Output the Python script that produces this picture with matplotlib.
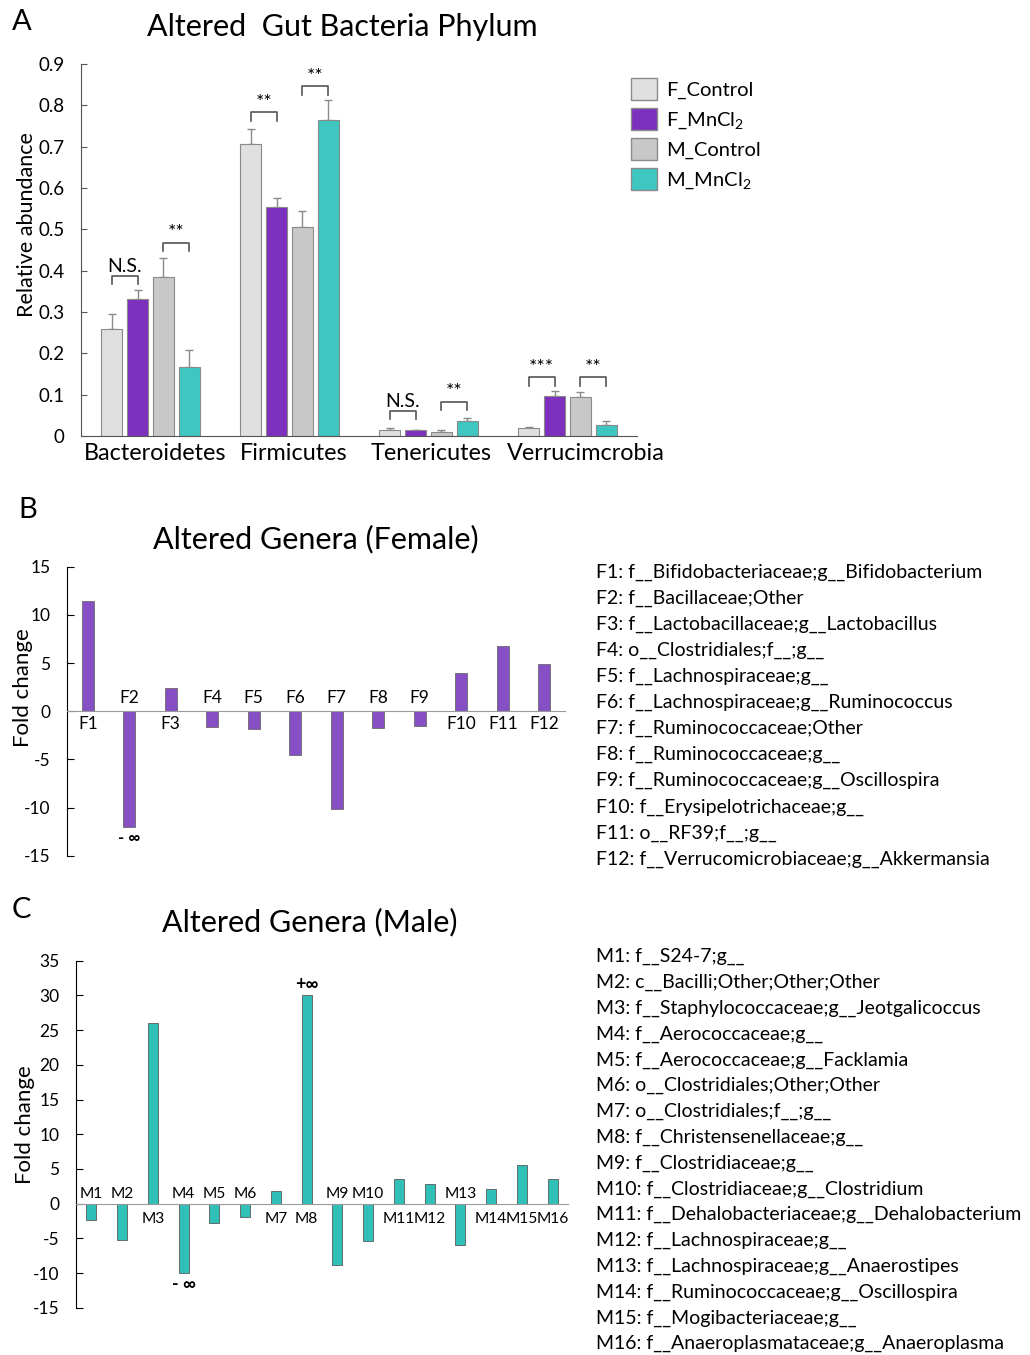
import numpy as np
import matplotlib.pyplot as plt
from matplotlib.patches import Patch

plt.rcParams['font.family'] = ['Lato', 'DejaVu Sans']
plt.rcParams['mathtext.fontset'] = 'custom'
plt.rcParams['mathtext.rm'] = 'Lato'
plt.rcParams['mathtext.it'] = 'Lato:italic'
plt.rcParams['axes.unicode_minus'] = False

# panel A data
phyla = ['Bacteroidetes', 'Firmicutes', 'Tenericutes', 'Verrucimcrobia']
groups = ['F_Control', 'F_MnCl$_2$', 'M_Control', 'M_MnCl$_2$']
abund = np.array([
    [0.258, 0.706, 0.015, 0.020],
    [0.331, 0.554, 0.0145, 0.096],
    [0.385, 0.506, 0.0105, 0.094],
    [0.167, 0.764, 0.0355, 0.026]])
abund_err = np.array([
    [0.036, 0.036, 0.005, 0.002],
    [0.023, 0.023, 0.001, 0.014],
    [0.045, 0.038, 0.004, 0.013],
    [0.041, 0.050, 0.008, 0.011]])
sig_text = [['N.S.', '**'], ['**', '**'], ['N.S.', '**'], ['***', '**']]
sig_y = [[0.387, 0.468], [0.783, 0.846], [0.0605, 0.083], [0.142, 0.142]]

# panel B data
f_labels = ['F1', 'F2', 'F3', 'F4', 'F5', 'F6', 'F7', 'F8', 'F9', 'F10', 'F11', 'F12']
f_fold = [11.44, -12.0, 2.39, -1.59, -1.87, -4.53, -10.2, -1.76, -1.52, 4.01, 6.81, 4.87]
f_taxa = ['f__Bifidobacteriaceae;g__Bifidobacterium',
          'f__Bacillaceae;Other',
          'f__Lactobacillaceae;g__Lactobacillus',
          'o__Clostridiales;f__;g__',
          'f__Lachnospiraceae;g__',
          'f__Lachnospiraceae;g__Ruminococcus',
          'f__Ruminococcaceae;Other',
          'f__Ruminococcaceae;g__',
          'f__Ruminococcaceae;g__Oscillospira',
          'f__Erysipelotrichaceae;g__',
          'o__RF39;f__;g__',
          'f__Verrucomicrobiaceae;g__Akkermansia']

# panel C data
m_labels = ['M%d' % i for i in range(1, 17)]
m_fold = [-2.31, -5.28, 26.03, -10.0, -2.74, -1.87, 1.83, 30.0,
          -8.89, -5.43, 3.6, 2.88, -5.91, 2.07, 5.52, 3.55]
m_taxa = ['f__S24-7;g__',
          'c__Bacilli;Other;Other;Other',
          'f__Staphylococcaceae;g__Jeotgalicoccus',
          'f__Aerococcaceae;g__',
          'f__Aerococcaceae;g__Facklamia',
          'o__Clostridiales;Other;Other',
          'o__Clostridiales;f__;g__',
          'f__Christensenellaceae;g__',
          'f__Clostridiaceae;g__',
          'f__Clostridiaceae;g__Clostridium',
          'f__Dehalobacteriaceae;g__Dehalobacterium',
          'f__Lachnospiraceae;g__',
          'f__Lachnospiraceae;g__Anaerostipes',
          'f__Ruminococcaceae;g__Oscillospira',
          'f__Mogibacteriaceae;g__',
          'f__Anaeroplasmataceae;g__Anaeroplasma']

group_colors = ['#e0e0e0', '#7d30be', '#c8c8c8', '#3ec7c0']
purple = '#8650c4'
teal = '#30c0b8'

W, H = 1030, 1355
fig = plt.figure(figsize=(W / 100, H / 100), dpi=100)


def fig_rect(x0, y_top, x1, y_bot):
    return [x0 / W, 1 - y_bot / H, (x1 - x0) / W, (y_bot - y_top) / H]


def px(x, y):
    return x / W, 1 - y / H


# ---------- A ----------
axA = fig.add_axes(fig_rect(81, 64, 637, 436))
pitch, bw = 0.186, 0.15
xg = np.arange(len(phyla))
for i in range(4):
    xs = xg + (i - 1.5) * pitch
    axA.bar(xs, abund[i], width=bw, color=group_colors[i], edgecolor='#8a8a8a',
            linewidth=0.8, zorder=2)
    axA.errorbar(xs, abund[i], yerr=[np.zeros(4), abund_err[i]], fmt='none',
                 ecolor='#8a8a8a', elinewidth=1, capsize=3, zorder=1)
for g in range(4):
    for k, (a, b) in enumerate([(0, 1), (2, 3)]):
        x1 = g + (a - 1.5) * pitch
        x2 = g + (b - 1.5) * pitch
        y = sig_y[g][k]
        axA.plot([x1, x1, x2, x2], [y - 0.02, y, y, y - 0.02], color='#555555', lw=1.2)
        axA.text((x1 + x2) / 2, y + 0.003, sig_text[g][k], ha='center', va='bottom',
                 fontsize=14)
axA.set_xlim(-0.5, 3.5)
axA.set_ylim(0, 0.9)
axA.set_yticks(np.arange(0, 0.91, 0.1))
axA.set_yticklabels(['0'] + ['%.1f' % v for v in np.arange(0.1, 0.91, 0.1)])
axA.set_xticks([0.03, 1.03, 2.02, 3.13])
axA.set_xticklabels(phyla, fontsize=16.8)
axA.tick_params(axis='x', length=0, pad=5)
for s in ['top', 'right']:
    axA.spines[s].set_visible(False)
for s in ['left', 'bottom']:
    axA.spines[s].set_color('#555555')
axA.tick_params(axis='y', labelsize=13.5, length=4, direction='in', pad=12, color='#555555')
fig.text(*px(27, 225), 'Relative abundance', fontsize=15.5, rotation=90,
         ha='center', va='center')

handles = [Patch(facecolor=c, edgecolor='#8a8a8a', label=l) for c, l in zip(group_colors, groups)]
fig.legend(handles=handles, loc='upper left', bbox_to_anchor=px(613, 60),
           frameon=False, fontsize=14.5, handlelength=1.3, handleheight=1.3,
           labelspacing=0.38, handletextpad=0.45)

fig.text(*px(12, 22), 'A', fontsize=21, va='center')
fig.text(*px(147, 27), 'Altered  Gut Bacteria Phylum', fontsize=22, va='center')

# ---------- B ----------
axB = fig.add_axes(fig_rect(67, 566.7, 565, 855.7))
xb = np.arange(len(f_labels))
axB.bar(xb, f_fold, width=0.3, color=purple, edgecolor='#6a6a6a', linewidth=0.6, zorder=2)
for x, v, lab in zip(xb, f_fold, f_labels):
    if v >= 0:
        axB.annotate(lab, (x, 0), xytext=(0, -5), textcoords='offset pixels',
                     ha='center', va='top', fontsize=12.5)
    else:
        axB.annotate(lab, (x, 0), xytext=(0, 5), textcoords='offset pixels',
                     ha='center', va='bottom', fontsize=12.5)
axB.annotate('- \u221e', (1, f_fold[1]), xytext=(0, -3), textcoords='offset pixels',
             ha='center', va='top', fontsize=12, fontweight='bold')
axB.set_xlim(-0.5, 11.5)
axB.set_ylim(-15, 15)
axB.set_yticks(range(-15, 16, 5))
axB.set_xticks([])
axB.spines['bottom'].set_position(('data', 0))
axB.spines['bottom'].set_color('#999999')
for s in ['top', 'right']:
    axB.spines[s].set_visible(False)
axB.tick_params(axis='y', labelsize=12.5, length=5, direction='in', pad=12)
fig.text(*px(23, 688), 'Fold change', fontsize=16, rotation=90, ha='center', va='center')

fig.text(*px(18, 510), 'B', fontsize=21, va='center')
fig.text(*px(153, 539), 'Altered Genera (Female)', fontsize=22, va='center')
for i, (lab, t) in enumerate(zip(f_labels, f_taxa)):
    fig.text(*px(596, 572 + i * 26.1), '%s: %s' % (lab, t), fontsize=14, va='center')

# ---------- C ----------
axC = fig.add_axes(fig_rect(76, 960.7, 568, 1307.7))
xm = np.arange(len(m_labels))
axC.bar(xm, m_fold, width=0.32, color=teal, edgecolor='#5a5a5a', linewidth=0.6, zorder=2)
for x, v, lab in zip(xm, m_fold, m_labels):
    if v >= 0:
        axC.annotate(lab, (x, 0), xytext=(0, -8), textcoords='offset pixels',
                     ha='center', va='top', fontsize=11.2)
    else:
        axC.annotate(lab, (x, 0), xytext=(0, 3), textcoords='offset pixels',
                     ha='center', va='bottom', fontsize=11.2)
axC.annotate('+\u221e', (7, m_fold[7]), xytext=(0, 2), textcoords='offset pixels',
             ha='center', va='bottom', fontsize=13, fontweight='bold')
axC.annotate('- \u221e', (3, m_fold[3]), xytext=(0, -3), textcoords='offset pixels',
             ha='center', va='top', fontsize=13, fontweight='bold')
axC.set_xlim(-0.5, 15.5)
axC.set_ylim(-15, 35)
axC.set_yticks(range(-15, 36, 5))
axC.set_xticks([])
axC.spines['bottom'].set_position(('data', 0))
axC.spines['bottom'].set_color('#999999')
for s in ['top', 'right']:
    axC.spines[s].set_visible(False)
axC.tick_params(axis='y', labelsize=12.5, length=5, direction='in', pad=12)
fig.text(*px(25, 1125), 'Fold change', fontsize=16, rotation=90, ha='center', va='center')

fig.text(*px(12, 910), 'C', fontsize=21, va='center')
fig.text(*px(162, 922), 'Altered Genera (Male)', fontsize=22, va='center')
for i, (lab, t) in enumerate(zip(m_labels, m_taxa)):
    fig.text(*px(596, 956.7 + i * 25.8), '%s: %s' % (lab, t), fontsize=14, va='center')

fig.savefig('out.png', dpi=100)
